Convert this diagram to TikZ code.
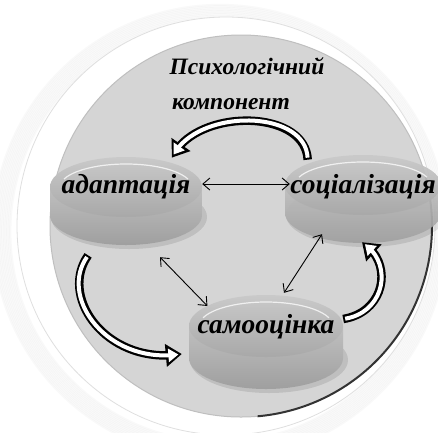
\documentclass[tikz,border=0pt]{standalone}
\usepackage{fontspec}
\setmainfont{Liberation Serif}
\usetikzlibrary{arrows.meta,shapes.geometric,bending}
\newcommand\mypill[5]{%
  \fill[black,opacity=0.10] ({#1+3},{#2+#5+2}) ellipse[x radius=#3pt+2pt,y radius=#4pt+2pt];
  \shade[top color=gray!50, bottom color=gray!75] ({#1-#3},#2) -- ({#1-#3},{#2+#5}) arc[start angle=180,end angle=360,x radius=#3pt,y radius=#4pt] -- ({#1+#3},#2) -- cycle;
  \shade[top color=gray!42, bottom color=gray!68] (#1,#2) ellipse[x radius=#3pt,y radius=#4pt];
  \draw[white,opacity=0.75,line width=1.2pt] (#1,#2) ++(160:{#3pt-10pt} and {#4pt-7pt}) arc[start angle=160,end angle=20,x radius={#3pt-10pt},y radius={#4pt-7pt}];
}
\newcommand\hollowarrow[1]{%
  \draw[line width=8.5pt,-{Triangle[length=16pt,width=22pt]}] #1;
  \draw[white,line width=4pt,shorten >=3.5pt,shorten <=2pt,-{Triangle[length=10pt,width=13pt]}] #1;
}
\begin{document}
\begin{tikzpicture}[x=1pt,y=-1pt,
  lbl/.style={font=\bfseries\itshape\fontsize{27.5}{30}\selectfont},
  ttl/.style={font=\bfseries\itshape\fontsize{23.5}{26}\selectfont},
  pillnode/.style={ellipse,inner sep=0pt},
  thinarrow/.style={line width=0.9pt,{Straight Barb[length=7pt,width=12pt]}-{Straight Barb[length=7pt,width=12pt]}}]
\useasboundingbox (0,0) rectangle (438,432);
% shadow of outer disc
\foreach \i in {1,...,12}{
  \draw[black,opacity=0.022,line width=2pt] (220,232) circle[radius={(208+\i*1.6)*1pt}];
}
% outer white disc
\fill[white] (226,226) circle[radius=209pt];
\draw[gray!25,line width=0.8pt] (226,226) circle[radius=209pt];
% main grey disc
\fill[gray!33] (241,226) circle[radius=191pt];
\draw[gray!50,line width=1pt] (241,226) circle[radius=191pt];
\draw[gray!40!black,line width=2pt] (241,226) ++(-85:191pt) arc[start angle=-85,end angle=15,radius=191pt];
% pills
\mypill{126}{187}{76}{30}{28}
\mypill{266}{326}{77}{31}{32}
\begin{scope}[opacity=0.92]
\mypill{363}{185}{78}{30}{28}
\end{scope}
% nodes
\node[pillnode,minimum width=152pt,minimum height=60pt,lbl] (ad) at (126,187) {\makebox[0pt]{адаптація}};
\node[pillnode,minimum width=156pt,minimum height=60pt,lbl] (soc) at (363,187) {\makebox[0pt]{соціалізація}};
\node[pillnode,minimum width=154pt,minimum height=62pt,lbl] (sam) at (266,327) {\makebox[0pt]{самооцінка}};
\node[ttl] (t1) at (247,66) {Психологічний};
\node[ttl] (t2) at (231,104) {компонент};
% thin arrows
\draw[thinarrow] ([yshift=3pt]ad.east) -- ([xshift=5pt,yshift=3pt]soc.west);
\draw[thinarrow] ([shift={(34,40)}]ad.south) -- ([shift={(-4,1)}]sam.north west);
\draw[thinarrow] ([shift={(-41,17)}]soc.south) -- ([shift={(18,-3)}]sam.north);
% hollow curved arrows
\hollowarrow{([yshift=6pt]soc.north west) .. controls (305,108) and (195,108) .. ([shift={(-8,-8)}]ad.north east)}
\hollowarrow{([shift={(16,47)}]ad.south west) .. controls (58,298) and (108,366) .. ([shift={(-7,27)}]sam.west)}
\hollowarrow{([yshift=8pt]sam.east) .. controls (386,312) and (394,262) .. ([shift={(-1,25)}]soc.south)}
\end{tikzpicture}
\end{document}
